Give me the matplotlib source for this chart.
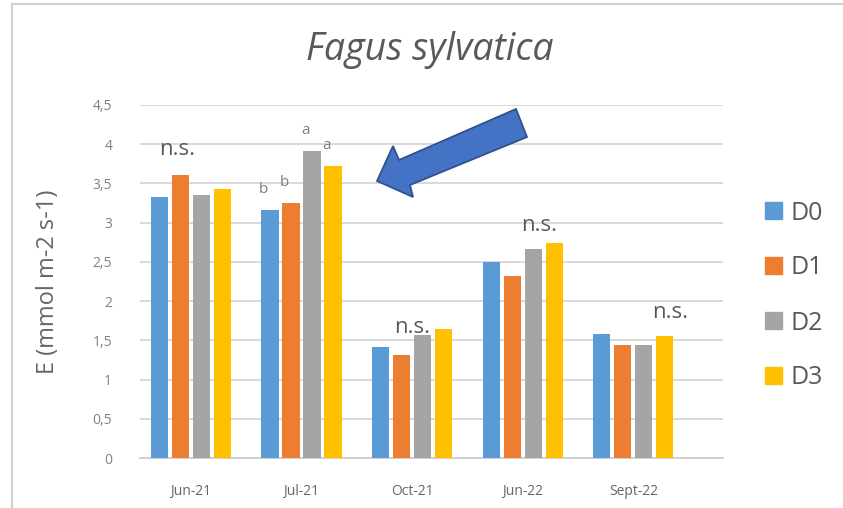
import matplotlib
matplotlib.use("Agg")
import matplotlib.pyplot as plt
import numpy as np
from matplotlib.lines import Line2D
from matplotlib.patches import Polygon

categories = ["Jun-21", "Jul-21", "Oct-21", "Jun-22", "Sept-22"]
series = ["D0", "D1", "D2", "D3"]
D0 = [3.33, 3.16, 1.42, 2.50, 1.58]
D1 = [3.61, 3.25, 1.31, 2.32, 1.44]
D2 = [3.35, 3.91, 1.57, 2.67, 1.44]
D3 = [3.43, 3.72, 1.65, 2.74, 1.56]
colors = ["#5B9BD5", "#ED7D31", "#A5A5A5", "#FFC000"]
yticks = [0, 0.5, 1, 1.5, 2, 2.5, 3, 3.5, 4, 4.5]
ytick_labels = ["0", "0,5", "1", "1,5", "2", "2,5", "3", "3,5", "4", "4,5"]

# "n.s." labels: category index, x offset, y value
ns_cats = [0, 2, 3, 4]
ns_dx = [-0.12, 0.0, 0.15, 0.33]
ns_y = [3.93, 1.66, 2.97, 1.85]
# significance letters for Jul-21 (one per series)
sig_letters = ["b", "b", "a", "a"]

plt.rcParams['font.family'] = ['Open Sans', 'DejaVu Sans']
W, H = 843, 508
fig = plt.figure(figsize=(W / 100, H / 100), dpi=100)
ax = fig.add_axes([140 / W, 1 - 458 / H, (723 - 140) / W, (458 - 105) / H])

x = np.arange(len(categories))
pitch = 0.19
width = 0.155
data = [D0, D1, D2, D3]
for i, (name, vals) in enumerate(zip(series, data)):
    ax.bar(x + (i - 1.5) * pitch, vals, width, color=colors[i], label=name, zorder=3)

ax.set_ylim(0, 4.5)
ax.set_xlim(-0.46, 4.81)
ax.set_yticks(yticks)
ax.set_yticklabels(ytick_labels)
ax.set_xticks(x)
ax.set_xticklabels(categories)
ax.tick_params(axis='y', length=0, pad=20, labelsize=10, labelcolor="#808080")
ax.tick_params(axis='x', length=0, pad=19, labelsize=10, labelcolor="#666666")
ax.grid(axis='y', color="#d9d9d9", linewidth=1.4, zorder=0)
for s in ["top", "right", "left"]:
    ax.spines[s].set_visible(False)
ax.spines["bottom"].set_color("#d0d0d0")
ax.spines["bottom"].set_linewidth(1.4)

ax.set_ylabel("E (mmol m-2 s-1)", fontsize=17, color="#666666")
ax.yaxis.set_label_coords((60 - 140) / 583, 0.5)
fig.text(430 / W, 1 - 50 / H, "Fagus sylvatica", fontsize=27, style="italic",
         color="#595959", ha="center", va="center")

for ci, dx, yy in zip(ns_cats, ns_dx, ns_y):
    ax.text(ci + dx, yy, "n.s.", fontsize=16, color="#595959", ha="center",
            va="center", zorder=4)

for i, lt in enumerate(sig_letters):
    ax.text(1 + (i - 1.5) * pitch - 0.06, data[i][1] + 0.26, lt, fontsize=11,
            color="#7f7f7f", ha="center", va="center", zorder=4)

handles = [plt.Rectangle((0, 0), 1, 1, color=c) for c in colors]
fig.legend(handles, series, loc="center left", bbox_to_anchor=(765 / W, 1 - 295.5 / H),
           frameon=False, fontsize=18, labelspacing=1.2, handlelength=0.68,
           handleheight=0.68, handletextpad=0.35, borderpad=0, borderaxespad=0,
           labelcolor="#595959")

# blue block arrow (pixel outline converted to figure fraction)
arrow_px = [(377, 181), (393, 146), (399, 160), (516, 109), (527, 137), (410, 185), (413, 197)]
arrow = Polygon([(px / W, 1 - py / H) for px, py in arrow_px], closed=True,
                transform=fig.transFigure, facecolor="#4472C4", edgecolor="#2F528F",
                linewidth=1.3, zorder=10)
fig.add_artist(arrow)

fig.add_artist(Line2D([12 / W, 12 / W], [0, 1 - 4 / H], transform=fig.transFigure,
                      color="#d0d0d0", lw=1.5))
fig.add_artist(Line2D([12 / W, 1], [1 - 4 / H, 1 - 4 / H], transform=fig.transFigure,
                      color="#d0d0d0", lw=1.5))

fig.savefig("out.png", dpi=100, facecolor="white")
